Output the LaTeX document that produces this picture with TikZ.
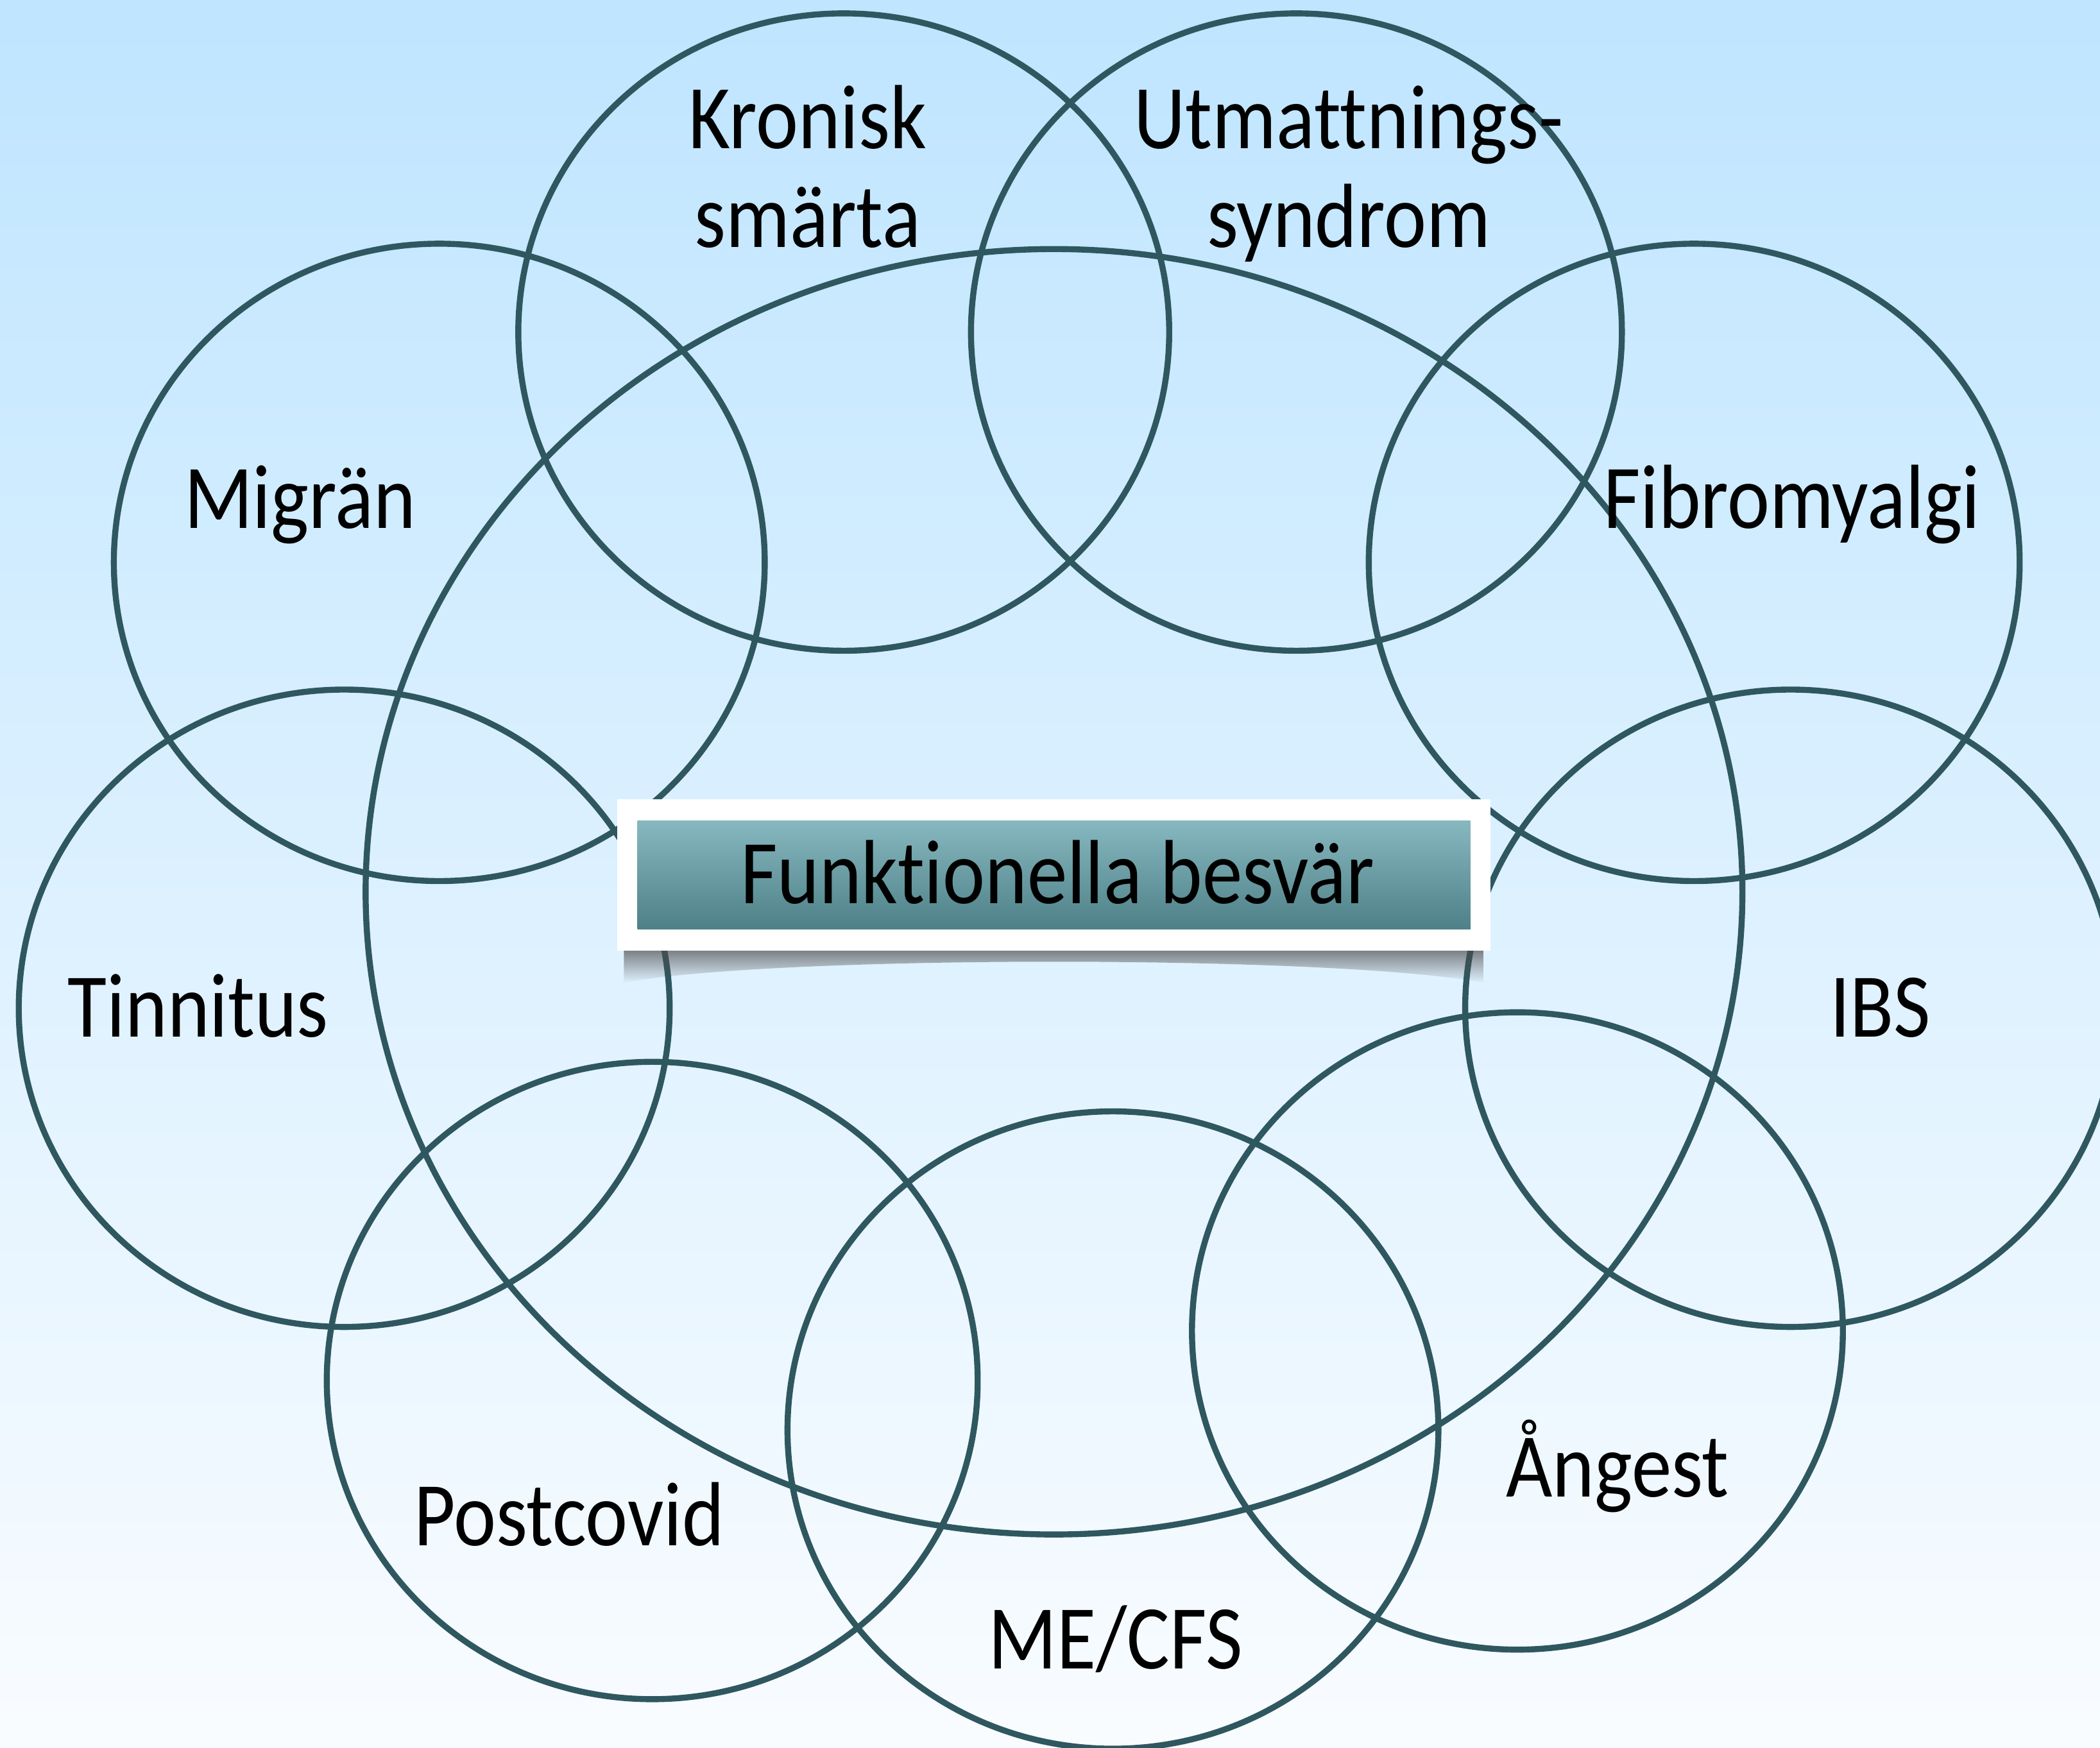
\documentclass[tikz,border=0pt]{standalone}
\usepackage{fontspec}
\setmainfont{Carlito}[FakeStretch=0.88,Ligatures={NoCommon}]
\usetikzlibrary{fadings}
\definecolor{ringc}{RGB}{47,87,95}
\definecolor{bgtop}{RGB}{191,229,255}
\definecolor{bgbot}{RGB}{249,252,255}
\definecolor{boxtop}{RGB}{135,184,191}
\definecolor{boxbot}{RGB}{78,128,135}
\begin{document}
\begin{tikzpicture}[x=0.25mm,y=-0.25mm,
  ring/.style={draw=ringc, line width=3.2pt},
  lbl/.style={anchor=base, inner sep=0pt, align=center, font=\fontsize{48.4}{52.3}\selectfont, text=black}]
\shade[top color=bgtop, bottom color=bgbot] (0,0) rectangle (1568,1305);
\useasboundingbox (0,0) rectangle (1568,1305);
% big ellipse
\draw[ring] (787,666) ellipse [x radius=514, y radius=480];
% circles
\draw[ring] (630,248) ellipse [x radius=243, y radius=238];
\draw[ring] (968,248) ellipse [x radius=243, y radius=238];
\draw[ring] (328,420) ellipse [x radius=243, y radius=238];
\draw[ring] (1265,420) ellipse [x radius=243, y radius=238];
\draw[ring] (257,753) ellipse [x radius=243, y radius=238];
\draw[ring] (1337,753) ellipse [x radius=243, y radius=238];
\draw[ring] (487,1031) ellipse [x radius=243, y radius=238];
\draw[ring] (1133,994) ellipse [x radius=243, y radius=238];
\draw[ring] (831,1068) ellipse [x radius=243, y radius=238];
% central box
\fill[black!70, opacity=0.7, path fading=south] (466,709) -- (1108,709) -- (1108,734) .. controls (1000,713) and (575,713) .. (466,734) -- cycle;
\fill[white] (461,597) rectangle (1113,710);
\shade[top color=boxtop, bottom color=boxbot] (476,613) rectangle (1098,694);
\node[lbl] (center) at (789.5,675) {Funktionella besvär};
% labels
\node[lbl] (kron) at (603,184.5) {Kronisk\\smärta};
\node[lbl] (utm) at (1007,184.5) {Utmattnings-\\syndrom};
\node[lbl] (mig) at (224,394.7) {Migrän};
\node[lbl] (fib) at (1338,394.7) {Fibromyalgi};
\node[lbl] (tin) at (148,774.5) {Tinnitus};
\node[lbl] (ibs) at (1404,774.5) {IBS};
\node[lbl] (post) at (425,1154.5) {Postcovid};
\node[lbl] (ang) at (1207.7,1117.8) {Ångest};
\node[lbl] (me) at (833,1246.4) {ME/CFS};
\end{tikzpicture}
\end{document}
